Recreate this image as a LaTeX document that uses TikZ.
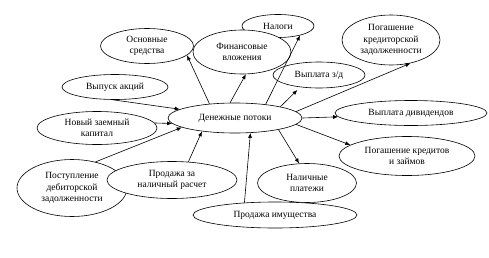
\documentclass[tikz,border=0pt]{standalone}
\usepackage{fontspec}
\setmainfont{Liberation Serif}
\usetikzlibrary{shapes.geometric, arrows.meta}

\begin{document}
\begin{tikzpicture}[x=1pt, y=-1pt,
    flow/.style={ellipse, draw, fill=white, line width=0.6pt, inner sep=0pt, align=center,
        font=\fontsize{9.5}{11.5}\selectfont},
    link/.style={-{Latex[length=5pt, width=4pt]}, line width=0.6pt}]
    \useasboundingbox (0, 0) rectangle (489, 257);

    % Center
    \node[flow, minimum width=134pt, minimum height=30pt] (money) at (235, 118) {Денежные потоки};

    % Inflows
    \node[flow, minimum width=106pt, minimum height=25pt] (shares) at (115, 87) {Выпуск акций};
    \node[flow, minimum width=120pt, minimum height=33pt] (loan) at (97, 128) {Новый заемный\\капитал};
    \node[flow, minimum width=110pt, minimum height=57pt] (debtin) at (72, 188) {Поступление\\дебиторской\\задолженности};
    \node[flow, minimum width=130pt, minimum height=37pt] (cashsale) at (172, 180) {Продажа за\\наличный расчет};

    % Outflows
    \node[flow, minimum width=93pt, minimum height=35pt] (osn) at (147, 46) {Основные\\средства};
    \node[flow, minimum width=72pt, minimum height=23pt] (tax) at (278, 26) {Налоги};
    \node[flow, minimum width=98pt, minimum height=44pt] (fin) at (242, 52) {Финансовые\\вложения};
    \node[flow, minimum width=92pt, minimum height=26pt] (wage) at (319, 75) {Выплата з/д};
    \node[flow, minimum width=98pt, minimum height=50pt] (credpay) at (391, 40) {Погашение\\кредиторской\\задолженности};
    \node[flow, minimum width=152pt, minimum height=25pt] (divid) at (411, 113) {Выплата дивидендов};
    \node[flow, minimum width=136pt, minimum height=39pt] (loanpay) at (407, 156) {Погашение кредитов\\и займов};
    \node[flow, minimum width=99pt, minimum height=39pt] (cashpay) at (307, 183) {Наличные\\платежи};
    \node[flow, minimum width=164pt, minimum height=26pt] (assets) at (275, 215) {Продажа имущества};

    % Arrows out
    \draw[link] (money.151) -- (osn.-13);
    \draw[link] (money.108) -- (fin.-80);
    \draw[link] (money.24) -- (tax.-23);
    \draw[link, shorten >=4pt] (money.14) -- (wage.213);
    \draw[link] (money.6) -- (credpay.-50);
    \draw[link] (money.east) -- (divid.183);
    \draw[link] (money.-6) -- (loanpay.169);
    \draw[link] (money.-15) -- (cashpay.112);

    % Arrows in
    \draw[link] (shares.-100) -- (money.171);
    \draw[link] (loan.5) -- (money.185);
    \draw[link] (debtin.48) -- (money.190);
    \draw[link] (cashsale.48) -- (money.202);
    \draw[link] (assets.158) -- (money.-44);
\end{tikzpicture}
\end{document}
